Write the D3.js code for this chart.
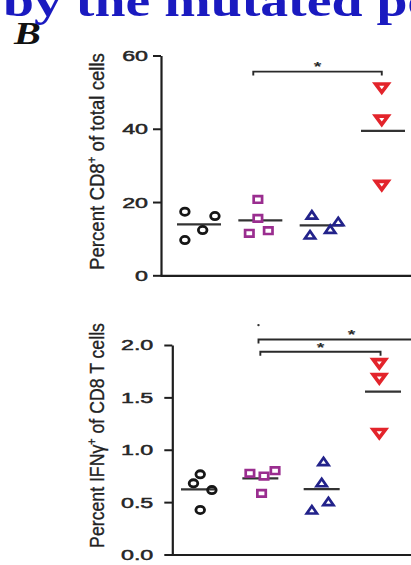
<!DOCTYPE html>
<html>
<head>
<meta charset="utf-8">
<script src="https://cdn.jsdelivr.net/npm/d3@7"></script>
<style>
  html, body { margin: 0; padding: 0; background: #ffffff; }
  svg { display: block; }
</style>
</head>
<body>
<script>
// ---- data ----
const groups = ["Group 1", "Group 2", "Group 3", "Group 4"];

// Percent CD8+ of total cells, one list per group
const cd8Values = [
  [17.35, 12.36, 16.18, 9.63],
  [20.7, 15.55, 11.46, 12.17],
  [16.45, 11.0, 12.55, 14.62],
  [51.2, 42.4, 24.6]
];
// horizontal scatter of each point, in group units
const cd8Jitter = [
  [-0.23, 0.06, 0.26, -0.23],
  [-0.04, -0.04, -0.18, 0.13],
  [-0.16, -0.19, 0.14, 0.27],
  [-0.02, -0.02, -0.02]
];
const cd8Ticks = [0, 20, 40, 60];

// Percent IFNγ+ of CD8 T cells
const ifngValues = [
  [0.765, 0.679, 0.615, 0.425],
  [0.775, 0.749, 0.80, 0.584],
  [0.886, 0.685, 0.425, 0.504],
  [1.824, 1.681, 1.157]
];
const ifngJitter = [
  [0.02, -0.09, 0.21, 0.02],
  [-0.17, 0.06, 0.24, 0.02],
  [0.03, 0.0, -0.16, 0.11],
  [-0.06, -0.06, -0.06]
];
const ifngTicks = [0, 0.5, 1.0, 1.5, 2.0];

// significance brackets: group span and height in data units
const cd8Brackets = [{ from: 1.885, to: 3.98, at: 55.6, label: "*" }];
const ifngBrackets = [
  { from: 1.97, to: 5.0, at: 2.053, label: "*" },
  { from: 2.0, to: 3.96, at: 1.935, label: "*" }
];

// ---- drawing ----
const W = 411, H = 565;
const STRETCH = 1.5;

const svg = d3.select("body").append("svg")
  .attr("width", W).attr("height", H)
  .attr("viewBox", `0 0 ${W} ${H}`);

svg.append("rect").attr("width", W).attr("height", H).attr("fill", "#ffffff");

// heading text running off the top edge
svg.append("g")
  .attr("transform", `translate(3,15.5) scale(1.24,1)`)
  .append("text")
  .attr("font-family", "'Liberation Serif', 'Times New Roman', serif")
  .attr("font-weight", "bold")
  .attr("font-size", 45)
  .attr("fill", "#1a1ac0")
  .text("by the mutated peptide");

// panel letter
svg.append("g")
  .attr("transform", `translate(14,43.5) scale(1.3,1)`)
  .append("text")
  .attr("font-family", "'Liberation Serif', 'Times New Roman', serif")
  .attr("font-weight", "bold")
  .attr("font-style", "italic")
  .attr("font-size", 31)
  .attr("fill", "#111")
  .text("B");

// shared horizontal placement of the groups
const x = d3.scaleLinear().domain([1, 4]).range([199, 383]);

const markers = [
  { color: "#161616", shape: "circle" },
  { color: "#9a2d8f", shape: "square" },
  { color: "#22228a", shape: "up" },
  { color: "#e3242b", shape: "down" }
];

function markerPath(shape) {
  const p = d3.path();
  if (shape === "square") {
    p.rect(-4.2, -3.3, 8.4, 6.6);
  } else if (shape === "up") {
    p.moveTo(0, -3.9); p.lineTo(5.1, 3.5); p.lineTo(-5.1, 3.5); p.closePath();
  } else {
    p.moveTo(-6.2, -3.8); p.lineTo(6.2, -3.8); p.lineTo(0, 4.5); p.closePath();
  }
  return p.toString();
}

function drawPanel(cfg) {
  const y = d3.scaleLinear().domain(cfg.domain).range(cfg.range);
  const g = svg.append("g");

  // y axis
  const yAxis = d3.axisLeft(y)
    .tickValues(cfg.ticks)
    .tickFormat(cfg.format)
    .tickSize(8)
    .tickPadding(cfg.padding)
    .tickSizeOuter(0);
  const ay = g.append("g")
    .attr("transform", `translate(${cfg.axisX},0)`)
    .call(yAxis);
  ay.select(".domain").attr("stroke", "#1e1e1e").attr("stroke-width", 2.2);
  ay.selectAll(".tick line").attr("stroke", "#1e1e1e").attr("stroke-width", 2);
  ay.selectAll(".tick text")
    .attr("font-family", "'Liberation Sans', Arial, sans-serif")
    .attr("font-size", 15.5)
    .attr("fill", "#262626")
    .attr("stroke", "#262626")
    .attr("stroke-width", 0.5)
    .each(function () {
      const len = this.getComputedTextLength();
      d3.select(this).attr("textLength", len * STRETCH).attr("lengthAdjust", "spacingAndGlyphs");
    });

  // x axis baseline running to the right edge
  const xb = d3.scaleLinear().range([cfg.axisX - 1, W + 2]);
  const ax = g.append("g")
    .attr("transform", `translate(0,${y(cfg.domain[0])})`)
    .call(d3.axisBottom(xb).tickValues([]).tickSizeOuter(0));
  ax.select(".domain").attr("stroke", "#1e1e1e").attr("stroke-width", 2.2);

  // y axis title (rotated, with superscript)
  const lab = g.append("g")
    .attr("transform", `translate(${cfg.labelX},${cfg.labelY}) rotate(-90)`);
  const t = lab.append("text")
    .attr("text-anchor", "middle")
    .attr("font-family", "'Liberation Sans', Arial, sans-serif")
    .attr("font-size", 18)
    .attr("fill", "#222")
    .attr("stroke", "#222")
    .attr("stroke-width", 0.3);
  cfg.label.forEach(part => {
    const ts = t.append("tspan").text(part.text);
    if (part.sup) ts.attr("font-size", 11).attr("dy", -7);
    if (part.after) ts.attr("dy", 7);
  });
  const natural = t.node().getComputedTextLength();
  t.attr("transform", `scale(${cfg.labelLength / natural},1.12)`);

  // mean lines
  cfg.values.forEach((vals, i) => {
    const m = d3.mean(vals);
    g.append("line")
      .attr("x1", x(i + 1) - cfg.meanHalf)
      .attr("x2", x(i + 1) + cfg.meanHalf)
      .attr("y1", y(m)).attr("y2", y(m))
      .attr("stroke", "#333")
      .attr("stroke-width", 2.2);
  });

  // points
  cfg.values.forEach((vals, i) => {
    const mk = markers[i];
    const pts = vals.map((v, j) => ({ cx: x(i + 1 + cfg.jitter[i][j]), cy: y(v) }));
    if (mk.shape === "circle") {
      g.selectAll(null).data(pts).enter().append("ellipse")
        .attr("cx", d => d.cx).attr("cy", d => d.cy)
        .attr("rx", 4.3).attr("ry", 3.6)
        .attr("fill", "none")
        .attr("stroke", mk.color).attr("stroke-width", 2.8);
    } else {
      g.selectAll(null).data(pts).enter().append("path")
        .attr("d", markerPath(mk.shape))
        .attr("transform", d => `translate(${d.cx},${d.cy})`)
        .attr("fill", "#ffffff")
        .attr("stroke", mk.color)
        .attr("stroke-width", mk.shape === "down" ? 3.6 : 2.7)
        .attr("stroke-linejoin", "miter");
    }
  });

  // significance brackets
  cfg.brackets.forEach(b => {
    const yy = y(b.at);
    const x1 = x(b.from), x2 = x(b.to);
    g.append("path")
      .attr("d", `M${x1},${yy + 4}V${yy}H${x2}V${yy + 4}`)
      .attr("fill", "none")
      .attr("stroke", "#2a2a2a")
      .attr("stroke-width", 1.9);
    g.append("g")
      .attr("transform", `translate(${(x1 + x2) / 2},${yy + cfg.starDy}) scale(${STRETCH},1)`)
      .append("text")
      .attr("text-anchor", "middle")
      .attr("font-family", "'Liberation Sans', Arial, sans-serif")
      .attr("font-weight", "bold")
      .attr("font-size", 13)
      .attr("fill", "#2a2a2a")
      .text(b.label);
  });

  return { g, y };
}

drawPanel({
  values: cd8Values, jitter: cd8Jitter, ticks: cd8Ticks,
  format: d3.format("d"),
  domain: [0, 60], range: [275.3, 55.5],
  axisX: 161, padding: 5,
  label: [{ text: "Percent CD8" }, { text: "+", sup: true }, { text: " of total cells", after: true }],
  labelX: 104, labelY: 161.5, labelLength: 217,
  meanHalf: 22, brackets: cd8Brackets, starDy: -0.5
});

const p2 = drawPanel({
  values: ifngValues, jitter: ifngJitter, ticks: ifngTicks,
  format: d3.format(".1f"),
  domain: [0, 2], range: [554.5, 345],
  axisX: 172.3, padding: 11,
  label: [{ text: "Percent IFNγ" }, { text: "+", sup: true }, { text: " of CD8 T cells", after: true }],
  labelX: 104, labelY: 435.5, labelLength: 225,
  meanHalf: 18, brackets: ifngBrackets, starDy: 0
});

// end of a further bracket above the two shown
p2.g.append("circle")
  .attr("cx", x(1.97)).attr("cy", p2.y(2.19))
  .attr("r", 1.2).attr("fill", "#333");
</script>
</body>
</html>
